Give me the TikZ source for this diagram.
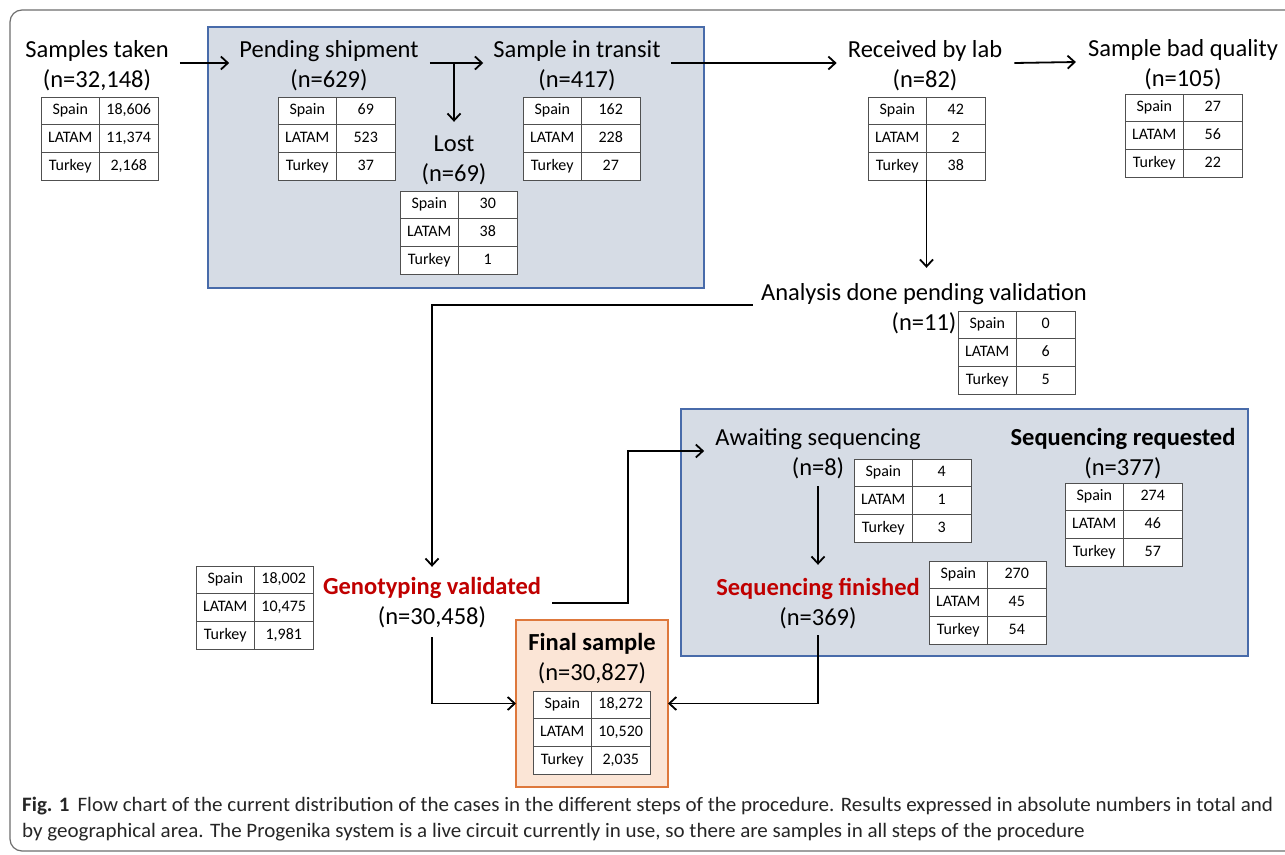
\documentclass[tikz,border=0pt]{standalone}
\usepackage{fontspec}
\setmainfont{Carlito}
\newfontfamily\capfont[FakeStretch=1.025]{Carlito}
\usetikzlibrary{arrows.meta}
\definecolor{boxfill}{RGB}{214,220,229}
\definecolor{boxline}{RGB}{72,107,170}
\definecolor{finfill}{RGB}{251,229,214}
\definecolor{finline}{RGB}{222,120,60}
\definecolor{redtxt}{RGB}{192,0,0}
\definecolor{cellline}{RGB}{80,80,80}
\definecolor{framecol}{RGB}{110,110,110}
\newcommand\bigf{\fontsize{24.5}{30}\selectfont}
\newcommand\cellf{\fontsize{16}{18}\selectfont}
\newcommand\gtab[5]{%
 \node[tcell, anchor=north west] (#1-a1) at (#2) {Spain};
 \node[tcell, anchor=north west] (#1-b1) at (#1-a1.north east) {#3};
 \node[tcell, anchor=north west] (#1-a2) at (#1-a1.south west) {LATAM};
 \node[tcell, anchor=north west] (#1-b2) at (#1-a2.north east) {#4};
 \node[tcell, anchor=north west] (#1-a3) at (#1-a2.south west) {Turkey};
 \node[tcell, anchor=north west] (#1-b3) at (#1-a3.north east) {#5};
}
\tikzset{
 blk/.style={align=center, inner sep=0pt, font=\bigf},
 tcell/.style={draw=cellline, line width=1pt, fill=white, minimum width=58.5pt, minimum height=27.8pt, inner sep=0pt, outer sep=0pt, font=\cellf, text height=11pt, text depth=3pt},
 conn/.style={line width=1.8pt, -{Straight Barb[length=7pt,width=13pt,line width=1.8pt]}},
 group/.style={draw=boxline, line width=1.3pt, fill=boxfill, inner sep=0pt, outer sep=0pt, anchor=north west},
 finbox/.style={draw=finline, line width=1.6pt, fill=finfill, inner sep=0pt, outer sep=0pt, anchor=north west},
 capt/.style={anchor=base west, inner sep=0pt, font=\capfont\fontsize{20.5}{26}\selectfont, text=black!85},
}
\begin{document}
\begin{tikzpicture}[x=1pt,y=-1pt]
\clip (0,0) rectangle (1285,854);
\fill[white] (0,0) rectangle (1285,854);
\draw[draw=framecol, line width=1.2pt, rounded corners=12pt] (10,10) rectangle (1310,851);
% group boxes
\node[group, minimum width=496pt, minimum height=261pt] (grp1) at (208,27) {};
\node[group, minimum width=567pt, minimum height=247pt] (grp2) at (681,409) {};
\node[finbox, minimum width=152pt, minimum height=167pt] (final) at (516,620) {};
% blocks
\node[blk] (samp) at (97,66) {\strut Samples taken\\\strut(n=32,148)};
\node[blk] (pend) at (329,66) {\strut Pending shipment\\\strut(n=629)};
\node[blk] (trans) at (577,66) {\strut Sample in transit\\\strut(n=417)};
\node[blk] (lost) at (454,160) {\strut Lost\\\strut(n=69)};
\node[blk] (recv) at (925,66) {\strut Received by lab\\\strut(n=82)};
\node[blk] (bad) at (1183,65) {\strut Sample bad quality\\\strut(n=105)};
\node[blk] (ana) at (924,309) {\strut Analysis done pending validation\\\strut(n=11)};
\node[blk] (awt) at (818,454) {\strut Awaiting sequencing\\\strut(n=8)};
\node[blk] (sreq) at (1123,454) {\strut\textbf{Sequencing requested}\\\strut(n=377)};
\node[blk] (sfin) at (818,604) {\strut\textcolor{redtxt}{\bfseries Sequencing finished}\\\strut(n=369)};
\node[blk] (geno) at (432,603) {\strut\textcolor{redtxt}{\bfseries Genotyping validated}\\\strut(n=30,458)};
\node[blk] (fin) at (592,659) {\strut\textbf{Final sample}\\\strut(n=30,827)};
% tables
\gtab{tsamp}{41,97}{18,606}{11,374}{2,168}
\gtab{tpend}{278,97}{69}{523}{37}
\gtab{tlost}{400,191}{30}{38}{1}
\gtab{ttrans}{523,97}{162}{228}{27}
\gtab{trecv}{868,97}{42}{2}{38}
\gtab{tbad}{1125,94}{27}{56}{22}
\gtab{tana}{958,311}{0}{6}{5}
\gtab{tawt}{854,459}{4}{1}{3}
\gtab{tsreq}{1065,483}{274}{46}{57}
\gtab{tsfin}{929,561}{270}{45}{54}
\gtab{tgeno}{196,566}{18,002}{10,475}{1,981}
\gtab{tfin}{533,691}{18,272}{10,520}{2,035}
% connectors
\draw[conn] ([xshift=11pt,yshift=3pt]samp.east) -- ([xshift=-10pt,yshift=3pt]pend.west);
\coordinate (pstart) at ([xshift=11pt,yshift=3pt]pend.east);
\draw[conn] (pstart) -- ([xshift=-10pt,yshift=3pt]trans.west);
\draw[conn] (lost.north |- pstart) -- ([yshift=8pt]lost.north);
\draw[conn] ([xshift=10pt,yshift=3pt]trans.east) -- ([xshift=-11pt,yshift=3pt]recv.west);
\draw[conn] ([xshift=12pt,yshift=3pt]recv.east) -- ([xshift=-12pt,yshift=3pt]bad.west);
\coordinate (anatop) at ([yshift=11pt]ana.north);
\draw[conn] (trecv-a3.south east) -- (trecv-a3.south east |- anatop);
\draw[conn] ([xshift=-8pt,yshift=4pt]ana.west) -| ([yshift=6pt]geno.north);
\coordinate (bend) at (628,451);
\draw[conn] ([xshift=11pt]geno.east) -| (bend) -- ([xshift=-11pt,yshift=3pt]awt.west);
\draw[conn] ([yshift=-2pt]awt.south) -- ([yshift=9pt]sfin.north);
\draw[conn] ([yshift=-4pt]geno.south) |- (final.west);
\draw[conn] ([yshift=-1pt]sfin.south) |- (final.east);
% caption
\node[capt] (cap1) at (22,811) {\textbf{Fig. 1}\hspace{8pt}Flow chart of the current distribution of the cases in the different steps of the procedure. Results expressed in absolute numbers in total and};
\node[capt] (cap2) at (22,837) {by geographical area. The Progenika system is a live circuit currently in use, so there are samples in all steps of the procedure};
\end{tikzpicture}
\end{document}
